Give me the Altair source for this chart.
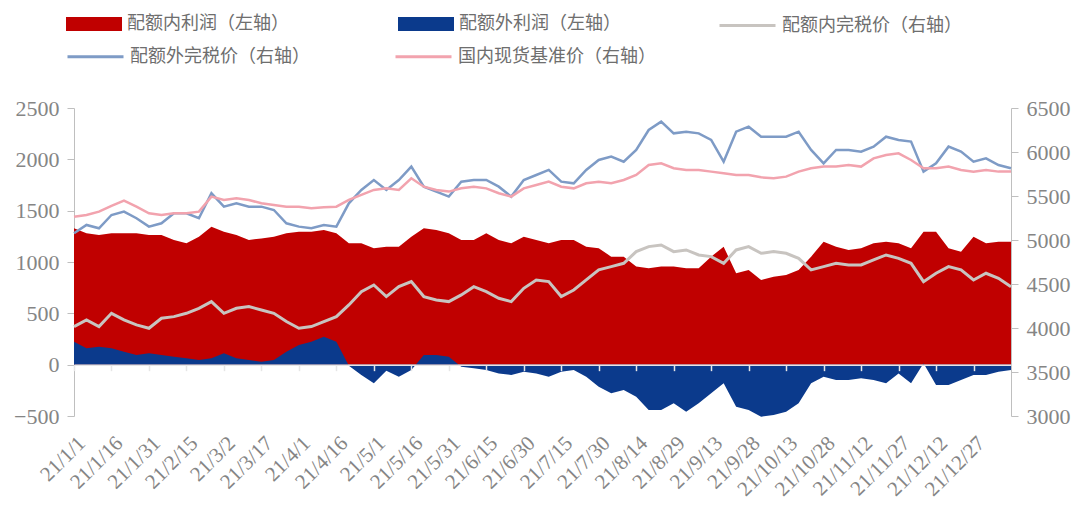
import altair as alt
import pandas as pd

# ---------------- data ----------------
dates = pd.date_range("2021-01-01", periods=76, freq="5D")

in_quota_profit = [1328, 1279, 1263, 1279, 1279, 1279, 1263, 1263, 1214, 1182,
                   1247, 1344, 1295, 1263, 1214, 1230, 1247, 1279, 1295, 1295,
                   1312, 1279, 1182, 1182, 1133, 1149, 1149, 1247, 1328, 1312,
                   1279, 1214, 1214, 1279, 1214, 1182, 1247, 1214, 1182, 1214,
                   1214, 1149, 1133, 1052, 1052, 955, 938, 955, 955, 938,
                   938, 1052, 1149, 890, 922, 825, 857, 873, 922, 1052,
                   1198, 1149, 1117, 1133, 1182, 1198, 1182, 1133, 1295, 1295,
                   1133, 1101, 1247, 1182, 1198, 1198]

out_quota_profit = [224, 159, 175, 159, 127, 94, 110, 94, 78, 62,
                    45, 62, 110, 62, 45, 29, 45, 127, 191, 224,
                    273, 224, -10, -101, -182, -60, -117, -52, 94, 94,
                    78, -20, -36, -52, -85, -101, -68, -85, -117, -68,
                    -52, -117, -214, -279, -247, -312, -442, -442, -377, -458,
                    -377, -279, -182, -409, -442, -507, -490, -458, -377, -182,
                    -117, -149, -149, -133, -149, -182, -85, -182, 13, -198,
                    -198, -149, -101, -101, -68, -52]

in_quota_price = [4016, 4092, 4016, 4167, 4092, 4035, 3997, 4111, 4129, 4167,
                  4224, 4300, 4167, 4224, 4243, 4205, 4167, 4073, 3997, 4016,
                  4073, 4129, 4262, 4413, 4489, 4357, 4470, 4527, 4357, 4319,
                  4300, 4376, 4470, 4413, 4338, 4300, 4451, 4546, 4527, 4357,
                  4432, 4546, 4660, 4697, 4735, 4868, 4925, 4944, 4868, 4887,
                  4830, 4811, 4735, 4887, 4925, 4849, 4868, 4849, 4792, 4660,
                  4697, 4735, 4716, 4716, 4773, 4830, 4792, 4735, 4527, 4622,
                  4697, 4660, 4546, 4622, 4565, 4470]

out_quota_price = [5076, 5171, 5133, 5284, 5322, 5247, 5152, 5190, 5303, 5303,
                   5247, 5531, 5379, 5417, 5379, 5379, 5341, 5190, 5152, 5133,
                   5171, 5152, 5417, 5569, 5682, 5569, 5682, 5834, 5606, 5550,
                   5493, 5663, 5682, 5682, 5606, 5493, 5682, 5739, 5796, 5663,
                   5644, 5796, 5909, 5947, 5890, 6023, 6250, 6345, 6212, 6231,
                   6212, 6137, 5890, 6231, 6288, 6174, 6174, 6174, 6231, 6023,
                   5871, 6023, 6023, 6004, 6061, 6174, 6137, 6118, 5777, 5871,
                   6061, 6004, 5890, 5928, 5852, 5815]

spot_price = [5265, 5284, 5322, 5387, 5447, 5379, 5303, 5284, 5303, 5303,
              5322, 5493, 5455, 5474, 5455, 5417, 5398, 5379, 5379, 5360,
              5372, 5379, 5455, 5512, 5569, 5587, 5569, 5701, 5606, 5569,
              5550, 5587, 5606, 5587, 5531, 5493, 5587, 5625, 5663, 5606,
              5587, 5644, 5663, 5644, 5682, 5739, 5853, 5871, 5815, 5796,
              5796, 5777, 5758, 5739, 5739, 5712, 5701, 5720, 5777, 5815,
              5834, 5834, 5853, 5834, 5928, 5966, 5985, 5909, 5815, 5815,
              5834, 5796, 5777, 5796, 5777, 5777]

tick_dates = ["2021-01-01", "2021-01-16", "2021-01-31", "2021-02-15", "2021-03-02",
              "2021-03-17", "2021-04-01", "2021-04-16", "2021-05-01", "2021-05-16",
              "2021-05-31", "2021-06-15", "2021-06-30", "2021-07-15", "2021-07-30",
              "2021-08-14", "2021-08-29", "2021-09-13", "2021-09-28", "2021-10-13",
              "2021-10-28", "2021-11-12", "2021-11-27", "2021-12-12", "2021-12-27"]

left_ticks = [-500, 0, 500, 1000, 1500, 2000, 2500]
right_ticks = [3000, 3500, 4000, 4500, 5000, 5500, 6000, 6500]

S1 = "配额内利润（左轴）"
S2 = "配额外利润（左轴）"
S3 = "配额内完税价（右轴）"
S4 = "配额外完税价（右轴）"
S5 = "国内现货基准价（右轴）"

RED, BLUE = "#C00000", "#0B3A8C"
GRAY, BLUEGRAY, PINK = "#C8C4C0", "#7E9BC6", "#F2A3AE"

# ---------------- tables ----------------
def long(series_map):
    frames = []
    for name, vals in series_map:
        frames.append(pd.DataFrame({"date": dates, "series": name, "value": vals}))
    return pd.concat(frames, ignore_index=True)

df_red = long([(S1, in_quota_profit)])
df_blue = long([(S2, out_quota_profit)])
df_gray = long([(S3, in_quota_price)])
df_lines = long([(S4, out_quota_price), (S5, spot_price)])

# ---------------- layout ----------------
W, H = 937, 308
CN_FONT = "Noto Sans CJK SC"
NUM_FONT = "Liberation Serif"
TXT = "#858585"
AX = "#BFBFBF"

def dt(s):
    d = pd.Timestamp(s)
    return alt.DateTime(year=d.year, month=d.month, date=d.day)

x_scale = alt.Scale(domain=[dt(dates[0]), dt(dates[-1])])
tick_vals = [dt(s) for s in tick_dates]

x_zero_axis = alt.Axis(values=tick_vals, orient="bottom", labels=False, ticks=True,
                       tickSize=6, tickColor="#E6E6E6", tickWidth=1.5, domain=True,
                       domainColor="#E6E6E6", domainWidth=1.5, grid=False,
                       offset=-H / 6, zindex=1, title=None)
x_label_axis = alt.Axis(values=tick_vals, orient="bottom",
                        labelExpr="timeFormat(datum.value, '%y/%-m/%-d')",
                        labelAngle=-45, labelFont=NUM_FONT, labelFontSize=21,
                        labelColor=TXT, domain=False, ticks=False, grid=False,
                        labelPadding=16, labelAlign="right", labelBaseline="top",
                        labelOverlap=False, title=None)

left_axis = alt.Axis(values=left_ticks, format="d", labelFont=NUM_FONT,
                     labelFontSize=22, labelColor=TXT, domainColor=AX,
                     tickColor=AX, tickSize=7, grid=False, title=None,
                     labelPadding=8)
right_axis = alt.Axis(values=right_ticks, format="d", orient="right",
                      labelFont=NUM_FONT, labelFontSize=22, labelColor=TXT,
                      domainColor=AX, tickColor=AX, tickSize=7, grid=False,
                      title=None, labelPadding=8)

legend_common = dict(orient="none", direction="horizontal", title=None,
                     labelFont=CN_FONT, labelFontSize=18, labelColor="#6E6E6E",
                     labelOffset=5, labelLimit=400)

fill_legend = alt.Legend(legendX=-8, legendY=-112, columnPadding=109,
                         symbolType="M-1,-0.25H1V0.25H-1Z", symbolSize=3136,
                         symbolStrokeWidth=0, **legend_common)
gray_legend = alt.Legend(legendX=644, legendY=-112, symbolType="stroke",
                         symbolSize=3136, symbolStrokeWidth=3, **legend_common)
color_legend = alt.Legend(legendX=-8, legendY=-81, columnPadding=79,
                          symbolType="stroke", symbolSize=3136,
                          symbolStrokeWidth=3, **legend_common)

fill_scale = alt.Scale(domain=[S1, S2], range=[RED, BLUE])
y_left = alt.Y("value:Q", scale=alt.Scale(domain=[-500, 2500], nice=False, zero=False),
               axis=left_axis)
y_right = alt.Y("value:Q", scale=alt.Scale(domain=[3000, 6500], nice=False, zero=False),
                axis=right_axis)

def area_layer(df):
    return alt.Chart(df).mark_area(interpolate="linear").encode(
        x=alt.X("date:T", scale=x_scale, axis=x_zero_axis),
        y=y_left,
        y2=alt.Y2Datum(0),
        fill=alt.Fill("series:N", scale=fill_scale, legend=fill_legend),
    )

left = alt.layer(area_layer(df_red), area_layer(df_blue))

gray_line = alt.Chart(df_gray).mark_line(strokeWidth=3).encode(
    x=alt.X("date:T", scale=x_scale, axis=x_label_axis),
    y=y_right,
    stroke=alt.Stroke("series:N", scale=alt.Scale(domain=[S3], range=[GRAY]),
                      legend=gray_legend),
)
other_lines = alt.Chart(df_lines).mark_line(strokeWidth=2.5).encode(
    x=alt.X("date:T", scale=x_scale, axis=x_label_axis),
    y=y_right,
    color=alt.Color("series:N", scale=alt.Scale(domain=[S4, S5], range=[BLUEGRAY, PINK]),
                    legend=color_legend, sort=[S4, S5]),
)
right = alt.layer(gray_line, other_lines)

chart = (
    alt.layer(left, right)
    .resolve_scale(y="independent")
    .resolve_axis(x="independent")
    .properties(width=W, height=H,
                padding={"left": 66, "top": 100, "right": 62, "bottom": 92},
                autosize=alt.AutoSizeParams(type="none"))
    .configure_view(stroke=None)
)

chart.save("out.html", embed_options={"renderer": "svg", "actions": False})
